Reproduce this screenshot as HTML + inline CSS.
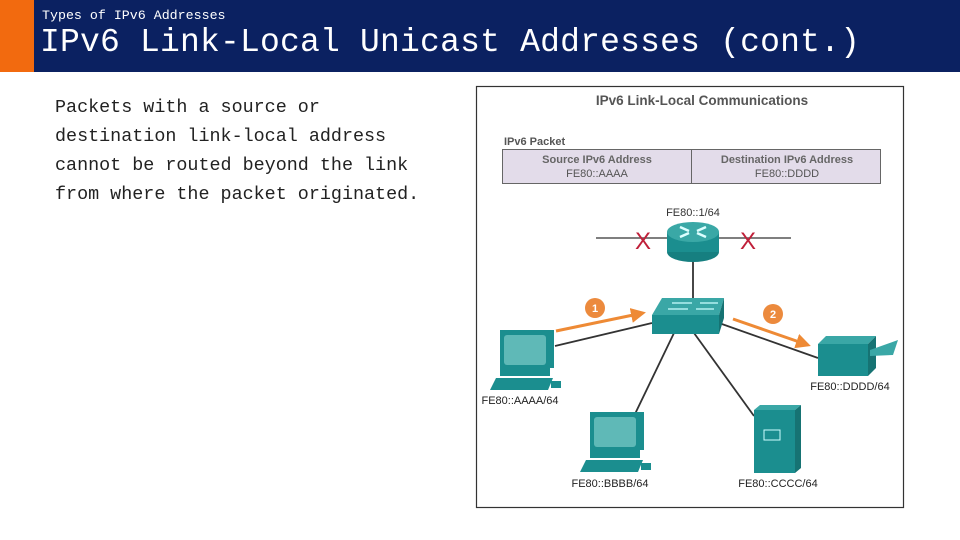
<!DOCTYPE html>
<html><head><meta charset="utf-8"><style>
html,body{margin:0;padding:0;background:#fff;width:960px;height:540px;overflow:hidden;position:relative}
.or{position:absolute;left:0;top:0;width:34px;height:72px;background:#f26a0f}
.nv{position:absolute;left:34px;top:0;width:926px;height:72px;background:#0b2161}
.sub{position:absolute;left:42px;top:8px;color:#fff;font:13.3px "Liberation Mono",monospace;white-space:nowrap}
.ttl{position:absolute;left:40px;top:24px;color:#fff;font:33px "Liberation Mono",monospace;white-space:nowrap;letter-spacing:0.2px}
.body{position:absolute;left:55px;top:93px;color:#222;font:18.4px/29px "Liberation Mono",monospace;white-space:pre}
svg{position:absolute;left:0;top:0}
</style></head><body>
<div class="or"></div><div class="nv"></div>
<div class="sub">Types of IPv6 Addresses</div>
<div class="ttl">IPv6 Link-Local Unicast Addresses (cont.)</div>
<div class="body">Packets with a source or
destination link-local address
cannot be routed beyond the link
from where the packet originated.</div>
<svg width="960" height="540" font-family="Liberation Sans, sans-serif">
<defs><marker id="a" markerWidth="5" markerHeight="5" refX="4" refY="2.5" orient="auto"><path d="M0,0 L5,2.5 L0,5 z" fill="#ee8a35"/></marker></defs>
<rect x="476.5" y="86.5" width="427" height="421" fill="#fff" stroke="#333" stroke-width="1.2"/>
<text x="702" y="105" font-size="13.5" font-weight="bold" fill="#555" text-anchor="middle">IPv6 Link-Local Communications</text>
<text x="504" y="145" font-size="11" font-weight="bold" fill="#555">IPv6 Packet</text>
<rect x="502.5" y="149.5" width="378" height="34" fill="#e3dcea" stroke="#666"/>
<line x1="691.5" y1="149.5" x2="691.5" y2="183.5" stroke="#666"/>
<text x="597" y="163" font-size="11" font-weight="bold" fill="#666" text-anchor="middle">Source IPv6 Address</text>
<text x="597" y="177" font-size="11" fill="#555" text-anchor="middle">FE80::AAAA</text>
<text x="787" y="163" font-size="11" font-weight="bold" fill="#666" text-anchor="middle">Destination IPv6 Address</text>
<text x="787" y="177" font-size="11" fill="#555" text-anchor="middle">FE80::DDDD</text>
<text x="693" y="216" font-size="11" fill="#333" text-anchor="middle">FE80::1/64</text>
<line x1="596" y1="238" x2="791" y2="238" stroke="#555" stroke-width="1.5"/>
<g stroke="#333" stroke-width="1.8" fill="none">
<line x1="693" y1="260" x2="693" y2="300"/>
<line x1="555" y1="346" x2="652" y2="323"/>
<line x1="719" y1="323" x2="818" y2="358"/>
<line x1="674" y1="333" x2="635" y2="414"/>
<line x1="694" y1="333" x2="754" y2="416"/>
</g>
<text x="643" y="249" font-size="24" fill="#c0203a" text-anchor="middle">X</text>
<text x="748" y="249" font-size="24" fill="#c0203a" text-anchor="middle">X</text>
<ellipse cx="693" cy="252" rx="26" ry="10" fill="#167f80"/>
<rect x="667" y="232" width="52" height="20" fill="#1b8e8f"/>
<ellipse cx="693" cy="232" rx="26" ry="10" fill="#3aa8a6"/>
<path d="M680,227 l9,4 M706,227 l-9,4 M680,237 l9,-4 M706,237 l-9,-4" stroke="#dff" stroke-width="2.5"/>
<polygon points="652,315 662,298 724,298 719,315" fill="#3aa7a6"/>
<rect x="652" y="315" width="67" height="19" fill="#1b8e8f"/>
<polygon points="719,315 724,298 724,318 719,334" fill="#167373"/>
<path d="M672,303h20M700,303h18M668,309h20M696,309h18" stroke="#cff" stroke-width="1.3"/>
<line x1="556" y1="331" x2="643" y2="313" stroke="#ee8a35" stroke-width="3" marker-end="url(#a)"/>
<line x1="733" y1="319" x2="808" y2="345" stroke="#ee8a35" stroke-width="3" marker-end="url(#a)"/>
<circle cx="595" cy="308" r="10" fill="#ec8a3d"/><text x="595" y="312" font-size="11" font-weight="bold" fill="#fff" text-anchor="middle">1</text>
<circle cx="773" cy="314" r="10" fill="#ec8a3d"/><text x="773" y="318" font-size="11" font-weight="bold" fill="#fff" text-anchor="middle">2</text>
<g id="pc">
<rect x="500" y="330" width="54" height="38" fill="#1b8e8f"/>
<rect x="504" y="335" width="42" height="30" rx="3" fill="#5fb9b7"/>
<rect x="500" y="368" width="50" height="8" fill="#1b8e8f"/>
<polygon points="490,390 496,378 553,378 548,390" fill="#1b8e8f"/>
<rect x="551" y="381" width="10" height="7" fill="#1b8e8f"/>
</g>
<use href="#pc" x="90" y="82"/>
<text x="520" y="404" font-size="11" fill="#222" text-anchor="middle">FE80::AAAA/64</text>
<text x="610" y="487" font-size="11" fill="#222" text-anchor="middle">FE80::BBBB/64</text>
<polygon points="818,344 826,336 876,336 868,344" fill="#3aa7a6"/>
<rect x="818" y="344" width="50" height="32" fill="#1b8e8f"/>
<polygon points="868,344 876,336 876,368 868,376" fill="#167373"/>
<polygon points="870,350 898,340 893,355 870,356" fill="#3aa7a6"/>
<text x="850" y="390" font-size="11" fill="#222" text-anchor="middle">FE80::DDDD/64</text>
<polygon points="754,410 760,405 801,405 795,410" fill="#3aa7a6"/>
<rect x="754" y="410" width="41" height="63" fill="#1b8e8f"/>
<polygon points="795,410 801,405 801,468 795,473" fill="#167373"/>
<rect x="764" y="430" width="16" height="10" fill="none" stroke="#cff" stroke-width="1"/>
<text x="778" y="487" font-size="11" fill="#222" text-anchor="middle">FE80::CCCC/64</text>
</svg>
</body></html>
